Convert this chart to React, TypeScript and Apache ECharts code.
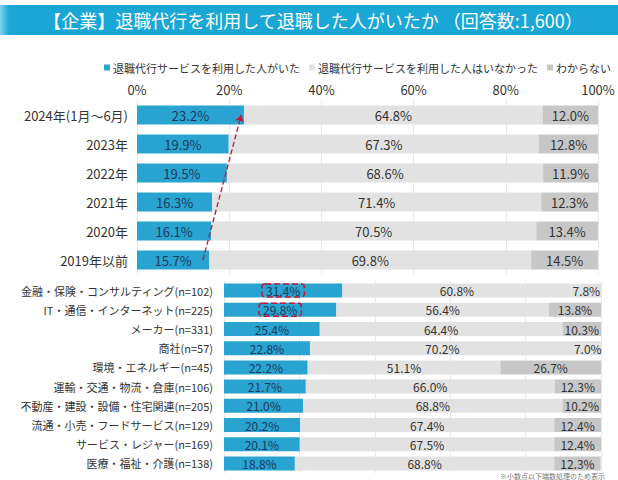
import React, { useEffect, useRef } from "react";
import * as echarts from "echarts";

const titleText = "【企業】退職代行を利用して退職した人がいたか （回答数:1,600）";
const seriesNames = [
  "退職代行サービスを利用した人がいた",
  "退職代行サービスを利用した人はいなかった",
  "わからない",
];
const xTicks = [0, 20, 40, 60, 80, 100];

const yearCategories = [
  "2024年(1月～6月)",
  "2023年",
  "2022年",
  "2021年",
  "2020年",
  "2019年以前",
];
const yearUsed = [23.2, 19.9, 19.5, 16.3, 16.1, 15.7];
const yearNotUsed = [64.8, 67.3, 68.6, 71.4, 70.5, 69.8];
const yearUnknown = [12.0, 12.8, 11.9, 12.3, 13.4, 14.5];

const industryCategories = [
  "金融・保険・コンサルティング(n=102)",
  "IT・通信・インターネット(n=225)",
  "メーカー(n=331)",
  "商社(n=57)",
  "環境・エネルギー(n=45)",
  "運輸・交通・物流・倉庫(n=106)",
  "不動産・建設・設備・住宅関連(n=205)",
  "流通・小売・フードサービス(n=129)",
  "サービス・レジャー(n=169)",
  "医療・福祉・介護(n=138)",
];
const industryUsed = [31.4, 29.8, 25.4, 22.8, 22.2, 21.7, 21.0, 20.2, 20.1, 18.8];
const industryNotUsed = [60.8, 56.4, 64.4, 70.2, 51.1, 66.0, 68.8, 67.4, 67.5, 68.8];
const industryUnknown = [7.8, 13.8, 10.3, 7.0, 26.7, 12.3, 10.2, 12.4, 12.4, 12.3];

// highlighted industries (dashed red box) and rows where "unknown" is drawn light
const highlighted = [0, 1];
const lightUnknown = [0, 3];

const footnote = "※小数点以下端数処理のため表示";

const FONT = "'Noto Sans CJK JP', 'Noto Sans', sans-serif";
const BLUE = "#29a3d0";
const LIGHT = "#e2e2e2";
const DARK = "#c7c7c7";
const RED = "#c0173b";

export default function App() {
  const ref = useRef<HTMLDivElement>(null);

  useEffect(() => {
    if (!ref.current) return;
    const chart = echarts.init(ref.current, null, { renderer: "svg" });
    const fmt = (p: any) => Number(p.value).toFixed(1) + "%";

    const topLabel = (color: string) => ({
      show: true,
      position: "inside",
      formatter: fmt,
      fontSize: 13,
      fontFamily: FONT,
      color,
    });
    const botLabel = (color: string) => ({
      show: true,
      position: "inside",
      formatter: fmt,
      fontSize: 12,
      fontFamily: FONT,
      color,
    });

    const option: any = {
      animation: false,
      textStyle: { fontFamily: FONT },
      graphic: [
        {
          type: "rect",
          shape: { x: 0, y: 5, width: 618, height: 30 },
          style: {
            fill: new echarts.graphic.LinearGradient(0, 0, 1, 0, [
              { offset: 0, color: "#7fd2ee" },
              { offset: 0.015, color: "#1aa7d5" },
              { offset: 1, color: "#1aa7d5" },
            ]),
          },
          silent: true,
        },
        {
          type: "text",
          x: 313,
          y: 20,
          style: {
            text: titleText,
            fill: "#ffffff",
            font: `18px ${FONT}`,
            align: "center",
            verticalAlign: "middle",
          },
          silent: true,
        },
        {
          type: "text",
          x: 500,
          y: 472.5,
          style: {
            text: footnote,
            fill: "#777",
            font: `7px ${FONT}`,
            align: "left",
            verticalAlign: "top",
          },
          silent: true,
        },
      ],
      legend: {
        left: 99,
        top: 57,
        itemWidth: 6,
        itemHeight: 6,
        itemGap: 9,
        icon: "rect",
        textStyle: { fontSize: 11, color: "#333", fontFamily: FONT, padding: [0, 0, 0, -2] },
        data: seriesNames,
      },
      grid: [
        { left: 137, width: 461, top: 100.5, height: 174 },
        { left: 224, width: 377, top: 281, height: 192 },
      ],
      xAxis: [
        {
          gridIndex: 0,
          type: "value",
          position: "top",
          min: xTicks[0],
          max: xTicks[xTicks.length - 1],
          interval: 20,
          axisLine: { show: false },
          axisTick: { show: false },
          axisLabel: {
            formatter: "{value}%",
            fontSize: 13,
            color: "#333",
            fontFamily: FONT,
            margin: 5,
          },
          splitLine: { show: true, lineStyle: { color: "#e8e8e8", width: 1 } },
        },
        {
          gridIndex: 1,
          type: "value",
          position: "top",
          min: xTicks[0],
          max: xTicks[xTicks.length - 1],
          interval: 20,
          axisLine: { show: false },
          axisTick: { show: false },
          axisLabel: { show: false },
          splitLine: { show: true, lineStyle: { color: "#e8e8e8", width: 1 } },
        },
      ],
      yAxis: [
        {
          gridIndex: 0,
          type: "category",
          inverse: true,
          data: yearCategories,
          axisLine: { show: false },
          axisTick: { show: false },
          axisLabel: { fontSize: 13, color: "#333", fontFamily: FONT, margin: 9 },
        },
        {
          gridIndex: 1,
          type: "category",
          inverse: true,
          data: industryCategories,
          axisLine: { show: false },
          axisTick: { show: false },
          axisLabel: { fontSize: 11, color: "#333", fontFamily: FONT, margin: 11 },
        },
      ],
      series: [
        {
          name: seriesNames[0],
          type: "bar",
          stack: "top",
          xAxisIndex: 0,
          yAxisIndex: 0,
          barWidth: 19,
          itemStyle: { color: BLUE },
          label: topLabel("#1c3a5e"),
          data: yearUsed,
          markLine: {
            silent: true,
            symbol: ["none", "arrow"],
            symbolSize: 7,
            label: { show: false },
            lineStyle: { type: "dashed", color: RED, width: 1.3 },
            data: [
              [
                { coord: [14.3, yearCategories.length - 1] },
                { coord: [22.6, 0] },
              ],
            ],
          },
        },
        {
          name: seriesNames[1],
          type: "bar",
          stack: "top",
          xAxisIndex: 0,
          yAxisIndex: 0,
          barWidth: 19,
          itemStyle: { color: LIGHT },
          label: topLabel("#333"),
          data: yearNotUsed,
        },
        {
          name: seriesNames[2],
          type: "bar",
          stack: "top",
          xAxisIndex: 0,
          yAxisIndex: 0,
          barWidth: 19,
          itemStyle: { color: DARK },
          label: topLabel("#333"),
          data: yearUnknown,
        },
        {
          name: seriesNames[0],
          type: "bar",
          stack: "bottom",
          xAxisIndex: 1,
          yAxisIndex: 1,
          barWidth: 14,
          itemStyle: { color: BLUE },
          label: botLabel("#1c3a5e"),
          data: industryUsed.map((v, i) =>
            highlighted.includes(i)
              ? {
                  value: v,
                  label: {
                    borderColor: RED,
                    borderWidth: 1.5,
                    borderType: "dashed",
                    borderRadius: 3,
                    padding: [1, 4, 0, 4],
                  },
                }
              : v
          ),
        },
        {
          name: seriesNames[1],
          type: "bar",
          stack: "bottom",
          xAxisIndex: 1,
          yAxisIndex: 1,
          barWidth: 14,
          itemStyle: { color: LIGHT },
          label: botLabel("#333"),
          data: industryNotUsed,
        },
        {
          name: seriesNames[2],
          type: "bar",
          stack: "bottom",
          xAxisIndex: 1,
          yAxisIndex: 1,
          barWidth: 14,
          itemStyle: { color: DARK },
          label: botLabel("#333"),
          data: industryUnknown.map((v, i) =>
            lightUnknown.includes(i) ? { value: v, itemStyle: { color: LIGHT } } : v
          ),
        },
      ],
    };

    chart.setOption(option);
    return () => chart.dispose();
  }, []);

  return (
    <div
      ref={ref}
      style={{ position: "fixed", left: 0, top: 0, width: 618, height: 480, background: "#fff" }}
    />
  );
}
